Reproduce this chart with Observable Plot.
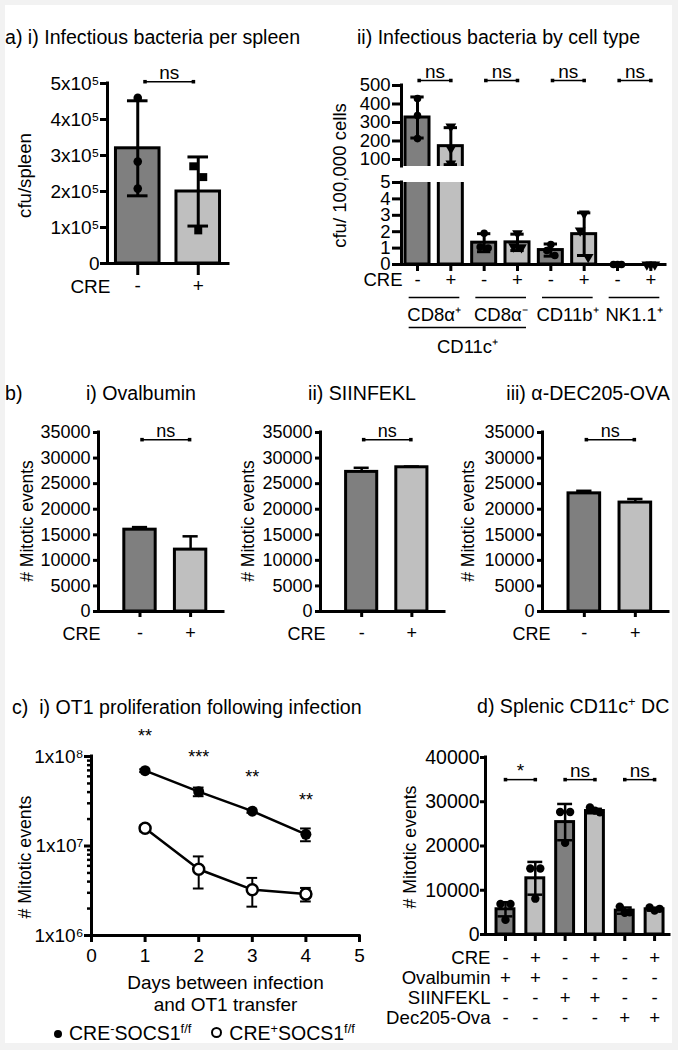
<!DOCTYPE html>
<html>
<head>
<meta charset="utf-8">
<script src="https://cdn.jsdelivr.net/npm/d3@7"></script>
<script src="https://cdn.jsdelivr.net/npm/@observablehq/plot@0.6"></script>
<style>
html, body { margin: 0; padding: 0; background: #f2f2f2; }
#page { position: relative; width: 678px; height: 1050px; overflow: hidden;
  font-family: "Liberation Sans", Arial, Helvetica, sans-serif; color: #000; }
#paper { position: absolute; left: 5px; top: 5px; width: 667px; height: 1038px; background: #fff; }
.lbl { position: absolute; white-space: pre; line-height: 1; }
.sup { font-size: 0.66em; position: relative; top: -0.6em; }
.lg { display: inline-block; box-sizing: border-box; border-radius: 50%; vertical-align: 0.15em; margin-right: 7px; }
</style>
</head>
<body>
<div id="page"><div id="paper"></div></div>
<script>
// ================= DATA =================
// a) i) Infectious bacteria per spleen
const aiGroups = ["-", "+"];
const aiMean = [3.2e5, 2.0e5];
const aiSD = [1.32e5, 0.96e5];
const aiPoints = [[4.6e5, 2.83e5, 2.08e5], [2.7e5, 2.4e5, 0.92e5]];
const aiTicks = [0, 1e5, 2e5, 3e5, 4e5, 5e5];
const aiSig = ["ns"];
const aiYLabel = "cfu/spleen";

// a) ii) Infectious bacteria by cell type
const aiiCells = ["CD8α⁺", "CD8α⁻", "CD11b⁺", "NK1.1⁺"];
const aiiParent = "CD11c⁺";
const aiiCre = ["-", "+", "-", "+", "-", "+", "-", "+"];
const aiiMean = [327, 172, 1.33, 1.35, 0.88, 1.85, 0, 0];
const aiiSD = [111, 100, 0.55, 0.5, 0.37, 1.3, 0, 0];
const aiiPoints = [[430, 338, 213], [278, 159, 78], [1.9, 1.06, 1.0], [1.9, 1.1, 1.05],
                   [1.22, 0.85, 0.55], [3.1, 2.07, 0.45], [0, 0, 0], [0, 0, 0]];
const aiiTicksTop = [100, 200, 300, 400, 500];
const aiiTicksBottom = [0, 1, 2, 3, 4, 5];
const aiiSig = ["ns", "ns", "ns", "ns"];
const aiiYLabel = "cfu/ 100,000 cells";

// b) mitotic events
const bCre = ["-", "+"];
const bTitles = ["i) Ovalbumin", "ii) SIINFEKL", "iii) α-DEC205-OVA"];
const bMean = [[16000, 12100], [27300, 28200], [23100, 21300]];
const bSD = [[500, 2600], [800, 150], [500, 700]];
const bTicks = [0, 5000, 10000, 15000, 20000, 25000, 30000, 35000];
const bSig = ["ns", "ns", "ns"];
const bYLabel = "# Mitotic events";

// c) OT1 proliferation following infection
const cDays = [1, 2, 3, 4];
const cNegMean = [6.95e7, 4.05e7, 2.45e7, 1.35e7];
const cNegSD = [0.25e7, 0.45e7, 0.1e7, 0.22e7];
const cPosMean = [1.58e7, 5.5e6, 3.25e6, 2.9e6];
const cPosSD = [0.12e7, 2.15e6, 1.15e6, 0.5e6];
const cStars = ["**", "***", "**", "**"];
const cXTicks = [0, 1, 2, 3, 4, 5];
const cYTicks = [1e6, 1e7, 1e8];
const cXLabel = "Days between infection\nand OT1 transfer";
const cYLabel = "# Mitotic events";

// d) Splenic CD11c+ DC
const dRowLabels = ["CRE", "Ovalbumin", "SIINFEKL", "Dec205-Ova"];
const dCre  = ["-", "+", "-", "+", "-", "+"];
const dOva  = ["+", "+", "-", "-", "-", "-"];
const dSiin = ["-", "-", "+", "+", "-", "-"];
const dDec  = ["-", "-", "-", "-", "+", "+"];
const dMean = [5700, 12700, 25400, 27900, 5400, 5700];
const dSD = [1600, 3700, 4100, 500, 700, 300];
const dPoints = [[6900, 6900, 3300], [14900, 14900, 8100], [27700, 27700, 20700],
                 [28700, 27600, 28000], [6300, 5000, 4900], [6100, 5800, 5400]];
const dTicks = [0, 10000, 20000, 30000, 40000];
const dSig = ["*", "ns", "ns"];
const dYLabel = "# Mitotic events";

// ================= HELPERS =================
const W = 678, H = 1050;
const FONT = '"Liberation Sans", Arial, Helvetica, sans-serif';
const DARK = "#7f7f7f", LIGHT = "#bfbfbf";
const page = document.getElementById("page");
const SUPD = "⁰¹²³⁴⁵⁶⁷⁸⁹";
const sup = n => String(n).split("").map(c => SUPD[+c]).join("");

function mount(frame, opts) {
  const [x0, x1, y0, y1] = frame;
  const svg = Plot.plot({
    width: W, height: H,
    marginLeft: x0, marginRight: W - x1, marginTop: y0, marginBottom: H - y1,
    style: {background: "transparent", fontFamily: FONT, color: "#000", overflow: "visible"},
    ...opts
  });
  svg.style.position = "absolute";
  svg.style.left = "0px";
  svg.style.top = "0px";
  page.appendChild(svg);
  return svg;
}

function label(html, x, base, size, anchor = "start") {
  const d = document.createElement("div");
  d.className = "lbl";
  d.innerHTML = html;
  d.style.fontSize = size + "px";
  d.style.left = x + "px";
  d.style.top = (base - 0.8465 * size) + "px";
  if (anchor === "middle") d.style.transform = "translateX(-50%)";
  if (anchor === "end") d.style.transform = "translateX(-100%)";
  page.appendChild(d);
  return d;
}

function bars(idx, mean, groups, hw, clip = false) {
  return [
    Plot.rect(idx.filter(i => groups[i] === "-"), {x1: i => i - hw, x2: i => i + hw, y1: 0, y2: i => mean[i],
      fill: DARK, stroke: "#000", strokeWidth: 3, clip}),
    Plot.rect(idx.filter(i => groups[i] === "+"), {x1: i => i - hw, x2: i => i + hw, y1: 0, y2: i => mean[i],
      fill: LIGHT, stroke: "#000", strokeWidth: 3, clip})
  ];
}

function errs(idx, mean, sd, cw, sw, {down = true, clip = false, xOf = i => i} = {}) {
  const ids = idx.filter(i => sd[i] > 0);
  const lo = i => down ? mean[i] - sd[i] : mean[i];
  const hi = i => mean[i] + sd[i];
  const m = [
    Plot.ruleX(ids, {x: xOf, y1: lo, y2: hi, strokeWidth: sw, clip}),
    Plot.ruleY(ids, {y: hi, x1: i => xOf(i) - cw, x2: i => xOf(i) + cw, strokeWidth: sw, clip})
  ];
  if (down) m.push(Plot.ruleY(ids, {y: lo, x1: i => xOf(i) - cw, x2: i => xOf(i) + cw, strokeWidth: sw, clip}));
  return m;
}

function pointDots(points, groups, group, jitter, opts) {
  const recs = points.flatMap((vals, i) => vals.map((v, k) => ({i, k, v}))).filter(p => groups[p.i] === group);
  return jitter.map((dx, k) => Plot.dot(recs.filter(p => p.k === k), {x: "i", y: "v", dx, fill: "#000", ...opts}));
}

function brackets(pairs, yv, labels, fs) {
  return [
    Plot.ruleY(pairs, {y: yv, x1: p => p[0], x2: p => p[1], strokeWidth: 1.5}),
    Plot.dot(pairs.flatMap(p => p), {x: d => d, y: yv, symbol: "square", r: 2, fill: "#000"}),
    Plot.text(pairs, {x: p => (p[0] + p[1]) / 2, y: yv, text: (p, j) => labels[j], dy: -3,
      lineAnchor: "bottom", fontSize: fs})
  ];
}

function yAxis(ticks, fmt, fs, tickSize, tickPadding, sw = 3) {
  return Plot.axisY({ticks, tickFormat: fmt, fontSize: fs, tickSize, tickPadding, strokeWidth: sw, label: null, anchor: "left"});
}

function yTitle(text, fs, dx, dy) {
  return Plot.text([text], {frameAnchor: "left", textAnchor: "middle", rotate: -90, dx, dy, fontSize: fs, lineAnchor: "middle"});
}

function axisLines(xmin, ymin) {
  return [
    Plot.ruleX([xmin], {strokeWidth: 3, strokeLinecap: "square"}),
    Plot.ruleY([ymin], {strokeWidth: 3, strokeLinecap: "square"})
  ];
}

// ================= TITLES =================
const TS = 19.6;
label("a) i) Infectious bacteria per spleen", 5, 45, TS);
label("ii) Infectious bacteria by cell type", 357, 45, TS);
label("b)", 5, 401, TS);
const bCenters = [141, 362, 588];
bTitles.forEach((t, k) => label(t, bCenters[k], 401, TS, "middle"));
label("c)  i) OT1 proliferation following infection", 12, 715, TS);
label('d) Splenic CD11c<span class="sup">+</span> DC', 477, 714, TS);

// ================= a) i) =================
{
  const idx = d3.range(aiGroups.length);
  const xd = [-0.5, 1.5];
  mount([107, 228, 83, 263], {
    x: {domain: xd},
    y: {domain: [0, 5e5]},
    marks: [
      ...bars(idx, aiMean, aiGroups, 0.36),
      ...errs(idx, aiMean, aiSD, 0.17, 3),
      ...pointDots(aiPoints, aiGroups, "-", [0, 0, 0], {r: 4.3}),
      ...pointDots(aiPoints, aiGroups, "+", [-5, 5, 0], {r: 4.5, symbol: "square"}),
      ...axisLines(xd[0], 0),
      yAxis(aiTicks, v => v === 0 ? "0" : `${v / 1e5}x10⁵`, 19, 7, 1),
      Plot.axisX({ticks: idx, tickFormat: i => aiGroups[i], fontSize: 19, tickSize: 12, tickPadding: 3,
        strokeWidth: 3, label: null}),
      Plot.text(["CRE"], {frameAnchor: "bottom-left", textAnchor: "end", lineAnchor: "bottom", dx: 3, dy: 29, fontSize: 19}),
      ...brackets([[0.12, 0.92]], 5.05e5, aiSig, 19),
      yTitle(aiYLabel, 18.6, -82, 2)
    ]
  });
}

// ================= a) ii) =================
{
  const idx = d3.range(aiiCre.length);
  const xd = [-0.48, 7.44];
  const pairs = aiiCells.map((c, p) => [2 * p + 0.05, 2 * p + 1.0]);
  // top (broken) segment
  mount([401, 665, 85, 166], {
    x: {domain: xd, axis: null},
    y: {domain: [62, 500]},
    marks: [
      ...bars(idx, aiiMean, aiiCre, 0.36, true),
      ...errs(idx, aiiMean, aiiSD, 0.2, 3, {clip: true}),
      ...pointDots(aiiPoints, aiiCre, "-", [0, 0, 0], {r: 3.8, clip: true}),
      ...pointDots(aiiPoints, aiiCre, "+", [0, 0, 0], {r: 4, symbol: "triangle", rotate: 180, clip: true}),
      Plot.ruleX([xd[0]], {strokeWidth: 3, strokeLinecap: "square"}),
      yAxis(aiiTicksTop, d => String(d), 18.5, 9, 2),
      ...brackets(pairs, 527, aiiSig, 19)
    ]
  });
  // bottom segment
  mount([401, 665, 182, 264], {
    x: {domain: xd},
    y: {domain: [0, 5]},
    marks: [
      ...bars(idx, aiiMean, aiiCre, 0.36, true),
      ...errs(idx, aiiMean, aiiSD, 0.2, 3, {clip: true}),
      ...pointDots(aiiPoints, aiiCre, "-", [0, -4, 4], {r: 3.8}),
      ...pointDots(aiiPoints, aiiCre, "+", [0, -4, 4], {r: 4, symbol: "triangle", rotate: 180}),
      ...axisLines(xd[0], 0),
      yAxis(aiiTicksBottom, d => String(d), 18.5, 9, 2),
      Plot.axisX({ticks: idx, tickFormat: i => aiiCre[i], fontSize: 18.5, tickSize: 7, tickPadding: 1,
        strokeWidth: 3, label: null}),
      Plot.text(["CRE"], {frameAnchor: "bottom-left", textAnchor: "end", lineAnchor: "bottom", dx: 1, dy: 21, fontSize: 18.5}),
      Plot.ruleY(aiiCells, {y: 0, x1: (c, p) => 2 * p - 0.25, x2: (c, p) => 2 * p + 1.27, dy: 33, strokeWidth: 1.3}),
      Plot.text(aiiCells, {x: (c, p) => 2 * p + 0.5, text: d => d, frameAnchor: "bottom", lineAnchor: "bottom", dy: 56, fontSize: 18.5}),
      Plot.ruleY([aiiParent], {y: 0, x1: -0.25, x2: 3.27, dy: 63, strokeWidth: 1.3}),
      Plot.text([aiiParent], {x: 1.5, text: d => d, frameAnchor: "bottom", lineAnchor: "bottom", dy: 88, fontSize: 18.5}),
      yTitle(aiiYLabel, 18.6, -61, -48)
    ]
  });
}

// ================= b) =================
{
  const idx = d3.range(bCre.length);
  const xd = [-0.82, 1.65];
  const frames = [[98, 223], [320, 444], [542, 668]];
  const creDx = [2, 5, 8];
  const labDx = [-71, -72, -74];
  frames.forEach(([x0, x1], k) => {
    mount([x0, x1, 432, 611], {
      x: {domain: xd},
      y: {domain: [0, 35000]},
      marks: [
        ...bars(idx, bMean[k], bCre, 0.31),
        ...errs(idx, bMean[k], bSD[k], 0.15, 2.5, {down: false}),
        ...axisLines(xd[0], 0),
        yAxis(bTicks, d => String(d), 18, 5, 3),
        Plot.axisX({ticks: idx, tickFormat: i => bCre[i], fontSize: 18, tickSize: 6, tickPadding: 9,
          strokeWidth: 3, label: null}),
        Plot.text(["CRE"], {frameAnchor: "bottom-left", textAnchor: "end", lineAnchor: "bottom", dx: creDx[k], dy: 28, fontSize: 18}),
        ...brackets([[0.04, 0.98]], 33600, [bSig[k]], 18),
        yTitle(bYLabel, 17.5, labDx[k], -1)
      ]
    });
  });
}

// ================= c) =================
{
  const idx = d3.range(cDays.length);
  const minor = cYTicks.slice(0, -1).flatMap(t => d3.range(2, 10).map(m => m * t));
  const xOf = i => cDays[i];
  mount([91, 359, 756, 935], {
    x: {domain: [0, 5]},
    y: {type: "log", domain: [1e6, 1e8]},
    marks: [
      Plot.line(idx, {x: xOf, y: i => cPosMean[i], strokeWidth: 2.5}),
      Plot.line(idx, {x: xOf, y: i => cNegMean[i], strokeWidth: 2.5}),
      ...errs(idx, cPosMean, cPosSD, 0.1, 2, {xOf}),
      ...errs(idx, cNegMean, cNegSD, 0.1, 2, {xOf}),
      Plot.dot(idx, {x: xOf, y: i => cPosMean[i], r: 5.5, fill: "#fff", stroke: "#000", strokeWidth: 2.5}),
      Plot.dot(idx, {x: xOf, y: i => cNegMean[i], r: 5.5, fill: "#000"}),
      Plot.text(idx, {x: xOf, y: i => cNegMean[i], text: i => cStars[i], dy: -34, fontSize: 18}),
      ...axisLines(0, 1e6),
      yAxis(minor, () => "", 10, 4, 0, 2.5),
      yAxis(cYTicks, v => `1x10${sup(Math.round(Math.log10(v)))}`, 19, 7, 1),
      Plot.axisX({ticks: cXTicks, tickFormat: d => String(d), fontSize: 19, tickSize: 7, tickPadding: 6,
        strokeWidth: 3, label: null}),
      Plot.text([cXLabel], {frameAnchor: "bottom", lineAnchor: "top", dy: 38, fontSize: 19, lineHeight: 1.16}),
      yTitle(cYLabel, 17.7, -66, 11)
    ]
  });
}

// legend for c)
{
  const d = label(
    '<span class="lg" style="width:8px;height:8px;background:#000"></span>' +
    'CRE<span class="sup">-</span>SOCS1<span class="sup">f/f</span>' +
    '<span style="display:inline-block;width:20px"></span>' +
    '<span class="lg" style="width:11px;height:11px;border:2.5px solid #000;background:#fff"></span>' +
    'CRE<span class="sup">+</span>SOCS1<span class="sup">f/f</span>',
    54, 1041, 19.5);
}

// ================= d) =================
{
  const idx = d3.range(dCre.length);
  const xd = [-0.67, 5.5];
  const rows = [dCre, dOva, dSiin, dDec];
  const pairs = dSig.map((s, p) => [2 * p, 2 * p + 1]);
  mount([485, 669, 757, 934], {
    x: {domain: xd},
    y: {domain: [0, 40000]},
    marks: [
      ...bars(idx, dMean, dCre, 0.3),
      ...errs(idx, dMean, dSD, 0.25, 2.5),
      ...pointDots(dPoints, dCre, "-", [-5, 5, 0], {r: 4.2}),
      ...pointDots(dPoints, dCre, "+", [-5, 5, 0], {r: 4.2}),
      ...axisLines(xd[0], 0),
      yAxis(dTicks, d => String(d), 19.5, 5, 1),
      Plot.axisX({ticks: idx, tickFormat: () => "", tickSize: 7, strokeWidth: 3, label: null}),
      ...rows.map((row, r) => Plot.text(idx, {x: i => i, text: i => row[i], frameAnchor: "bottom",
        lineAnchor: "bottom", dy: 29 + 20 * r, fontSize: 18.6})),
      ...dRowLabels.map((t, r) => Plot.text([t], {frameAnchor: "bottom-left", textAnchor: "end",
        lineAnchor: "bottom", dx: 5, dy: 29 + 20 * r, fontSize: 18.6})),
      ...brackets(pairs, 35000, dSig, 19),
      yTitle(dYLabel, 17.7, -75, 1)
    ]
  });
}
</script>
</body>
</html>
